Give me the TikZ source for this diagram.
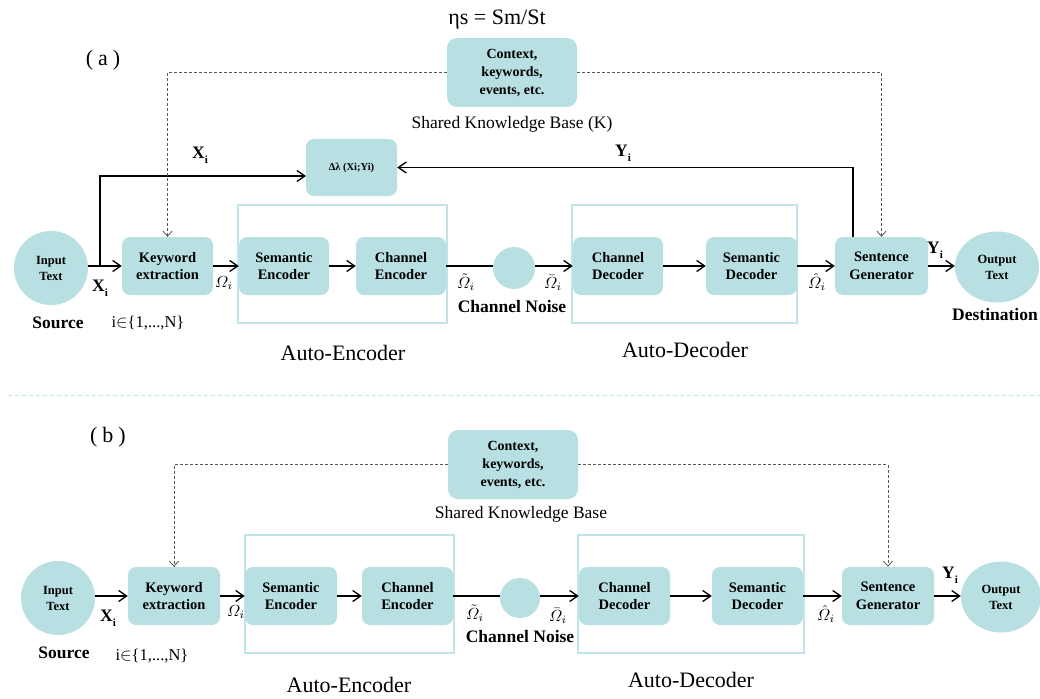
\documentclass[tikz,border=0pt]{standalone}
\usepackage{amsmath}
\usepackage{graphicx}
\usepackage{fontspec}
\setmainfont{Liberation Serif}
\usetikzlibrary{arrows.meta,shapes.geometric}
\definecolor{boxc}{HTML}{B8DFE2}
\definecolor{framec}{HTML}{BFE5E9}
\definecolor{dashc}{HTML}{555555}
\newcommand\mybsub[2]{\textbf{#1}\raisebox{-0.28em}{\fontsize{11}{11}\selectfont\bfseries #2}}
\newcommand\myomg[1]{\scalebox{1.6}{$#1_i$}}
\begin{document}
\begin{tikzpicture}[x=1pt,y=-1pt,
  blk/.style={fill=boxc, rounded corners=8pt, inner sep=0pt, align=center,
    font=\fontsize{14.5}{17.5}\selectfont\bfseries, minimum height=58pt},
  kbbox/.style={fill=boxc, rounded corners=10pt, inner sep=0pt, align=center,
    font=\fontsize{14}{18}\selectfont\bfseries, minimum width=130pt, minimum height=69pt},
  endpt/.style={fill=boxc, inner sep=0pt, align=center,
    font=\fontsize{12.5}{16}\selectfont\bfseries},
  noisec/.style={circle, fill=boxc, inner sep=0pt},
  frame/.style={draw=framec, line width=1.2pt},
  arr/.style={line width=1.3pt, -{Straight Barb[length=8pt,width=11pt,line width=1.3pt]}},
  plain/.style={line width=1.3pt},
  dsh/.style={draw=dashc, line width=0.8pt, dash pattern=on 3pt off 2pt,
    -{Straight Barb[length=5pt,width=9pt,line width=0.8pt]}},
  lbl/.style={inner sep=0pt, font=\fontsize{17.5}{20}\selectfont\bfseries},
  rlbl/.style={inner sep=0pt, font=\fontsize{17.5}{20}\selectfont},
  big/.style={inner sep=0pt, font=\fontsize{22}{26}\selectfont},
  mlbl/.style={inner sep=0pt, font=\fontsize{10}{12}\selectfont},
]
\useasboundingbox (0,0) rectangle (1040,698);

%================ (a) ================
\node[big] (eta) at (497,20) {ηs = Sm/St};
\node[big] (la) at (103,60) {(\hspace{5pt}a\hspace{5pt})};

\node[kbbox] (kb_a) at (512,72.5) {Context,\\keywords,\\events, etc.};
\node[rlbl] (kbt_a) at (512,124) {Shared Knowledge Base (K)};

\node[blk, minimum width=91pt, minimum height=57pt, font=\fontsize{10.5}{12}\selectfont\bfseries] (dl_a) at (351.5,167.5) {Δλ (Xi;Yi)};

\draw[frame] (238,205) rectangle (447,323);
\draw[frame] (572,205) rectangle (797,323);

\node[endpt, circle, minimum size=74pt] (in_a) at (51,268) {Input\\Text};
\node[blk, minimum width=91pt] (kw_a) at (167.5,266) {Keyword\\extraction};
\node[blk, minimum width=90pt] (se_a) at (284,266) {Semantic\\Encoder};
\node[blk, minimum width=90pt] (ce_a) at (401,266) {Channel\\Encoder};
\node[noisec, minimum size=42pt] (no_a) at (514,268) {};
\node[blk, minimum width=90pt] (cd_a) at (618,266) {Channel\\Decoder};
\node[blk, minimum width=91pt] (sd_a) at (751.5,266) {Semantic\\Decoder};
\node[blk, minimum width=93pt] (sg_a) at (881.5,266) {Sentence\\Generator};
\node[endpt, ellipse, minimum width=84pt, minimum height=71pt] (out_a) at (997,267) {Output\\Text};

\draw[arr] (in_a.east |- kw_a.west) -- (kw_a.west);
\draw[arr] (kw_a.east) -- (se_a.west);
\draw[arr] (se_a.east) -- (ce_a.west);
\draw[plain] (ce_a.east) -- (no_a.west |- ce_a.east);
\draw[arr] (no_a.east |- cd_a.west) -- (cd_a.west);
\draw[arr] (cd_a.east) -- (sd_a.west);
\draw[arr] (sd_a.east) -- (sg_a.west);
\draw[arr] (sg_a.east) -- (out_a.west |- sg_a.east);

\coordinate (br_a) at (100,266);
\coordinate (xa) at (306,176);
\draw[arr] (br_a) |- (xa);
\coordinate (ya) at (853,237);
\draw[arr] (ya) |- (dl_a.east);

\draw[dsh] (kb_a.west) -| (kw_a.north);
\draw[dsh] (kb_a.east) -| (sg_a.north);

\node[lbl] (xil_a) at (200,155) {\mybsub{X}{i}};
\node[lbl] (yil_a) at (623,153) {\mybsub{Y}{i}};
\node[lbl] (xi_a) at (100,288) {\mybsub{X}{i}};
\node[lbl] (yo_a) at (935,250) {\mybsub{Y}{i}};
\node[mlbl] (o1_a) at (224,283) {\myomg{\varOmega}};
\node[mlbl] (o2_a) at (466,282) {\myomg{\tilde{\varOmega}}};
\node[mlbl] (o3_a) at (553,283) {\myomg{\bar{\varOmega}}};
\node[mlbl] (o4_a) at (817,282) {\myomg{\hat{\varOmega}}};

\node[lbl] (src_a) at (58,323) {Source};
\node[rlbl, font=\fontsize{16.5}{20}\selectfont] (idx_a) at (148,323) {i$\in$\{1,...,N\}};
\node[lbl] (cn_a) at (512,307) {Channel Noise};
\node[lbl] (dst_a) at (995,315) {Destination};
\node[big] (ae_a) at (343,353) {Auto-Encoder};
\node[big] (ad_a) at (685,350) {Auto-Decoder};

%================ divider ================
\draw[framec, line width=0.8pt, dash pattern=on 4pt off 3pt] (8,395) -- (1040,395);

%================ (b) ================
\node[big] (lb) at (108,437) {(\hspace{5pt}b\hspace{5pt})};
\node[kbbox] (kb_b) at (513,464.5) {Context,\\keywords,\\events, etc.};
\node[rlbl] (kbt_b) at (521,514) {Shared Knowledge Base};

\draw[frame] (245,535) rectangle (454,653);
\draw[frame] (578,535) rectangle (804,653);

\node[endpt, circle, minimum size=74pt] (in_b) at (58,598) {Input\\Text};
\node[blk, minimum width=92pt] (kw_b) at (174,596) {Keyword\\extraction};
\node[blk, minimum width=92pt] (se_b) at (291,596) {Semantic\\Encoder};
\node[blk, minimum width=91pt] (ce_b) at (407.5,596) {Channel\\Encoder};
\node[noisec, minimum size=40pt] (no_b) at (520,598) {};
\node[blk, minimum width=91pt] (cd_b) at (624.5,596) {Channel\\Decoder};
\node[blk, minimum width=91pt] (sd_b) at (757.5,596) {Semantic\\Decoder};
\node[blk, minimum width=92pt] (sg_b) at (888,596) {Sentence\\Generator};
\node[endpt, ellipse, minimum width=80pt, minimum height=71pt] (out_b) at (1001,597) {Output\\Text};

\draw[arr] (in_b.east |- kw_b.west) -- (kw_b.west);
\draw[arr] (kw_b.east) -- (se_b.west);
\draw[arr] (se_b.east) -- (ce_b.west);
\draw[plain] (ce_b.east) -- (no_b.west |- ce_b.east);
\draw[arr] (no_b.east |- cd_b.west) -- (cd_b.west);
\draw[arr] (cd_b.east) -- (sd_b.west);
\draw[arr] (sd_b.east) -- (sg_b.west);
\draw[arr] (sg_b.east) -- (out_b.west |- sg_b.east);

\draw[dsh] (kb_b.west) -| (kw_b.north);
\draw[dsh] (kb_b.east) -| (sg_b.north);

\node[lbl] (xi_b) at (108,618) {\mybsub{X}{i}};
\node[lbl] (yo_b) at (950,575) {\mybsub{Y}{i}};
\node[mlbl] (o1_b) at (236,612) {\myomg{\varOmega}};
\node[mlbl] (o2_b) at (475,613) {\myomg{\tilde{\varOmega}}};
\node[mlbl] (o3_b) at (558,616) {\myomg{\bar{\varOmega}}};
\node[mlbl] (o4_b) at (826,614) {\myomg{\hat{\varOmega}}};

\node[lbl] (src_b) at (64,653) {Source};
\node[rlbl, font=\fontsize{16.5}{20}\selectfont] (idx_b) at (152,656) {i$\in$\{1,...,N\}};
\node[lbl] (cn_b) at (520,637) {Channel Noise};
\node[big] (ae_b) at (349,685) {Auto-Encoder};
\node[big] (ad_b) at (691,680) {Auto-Decoder};
\end{tikzpicture}
\end{document}
